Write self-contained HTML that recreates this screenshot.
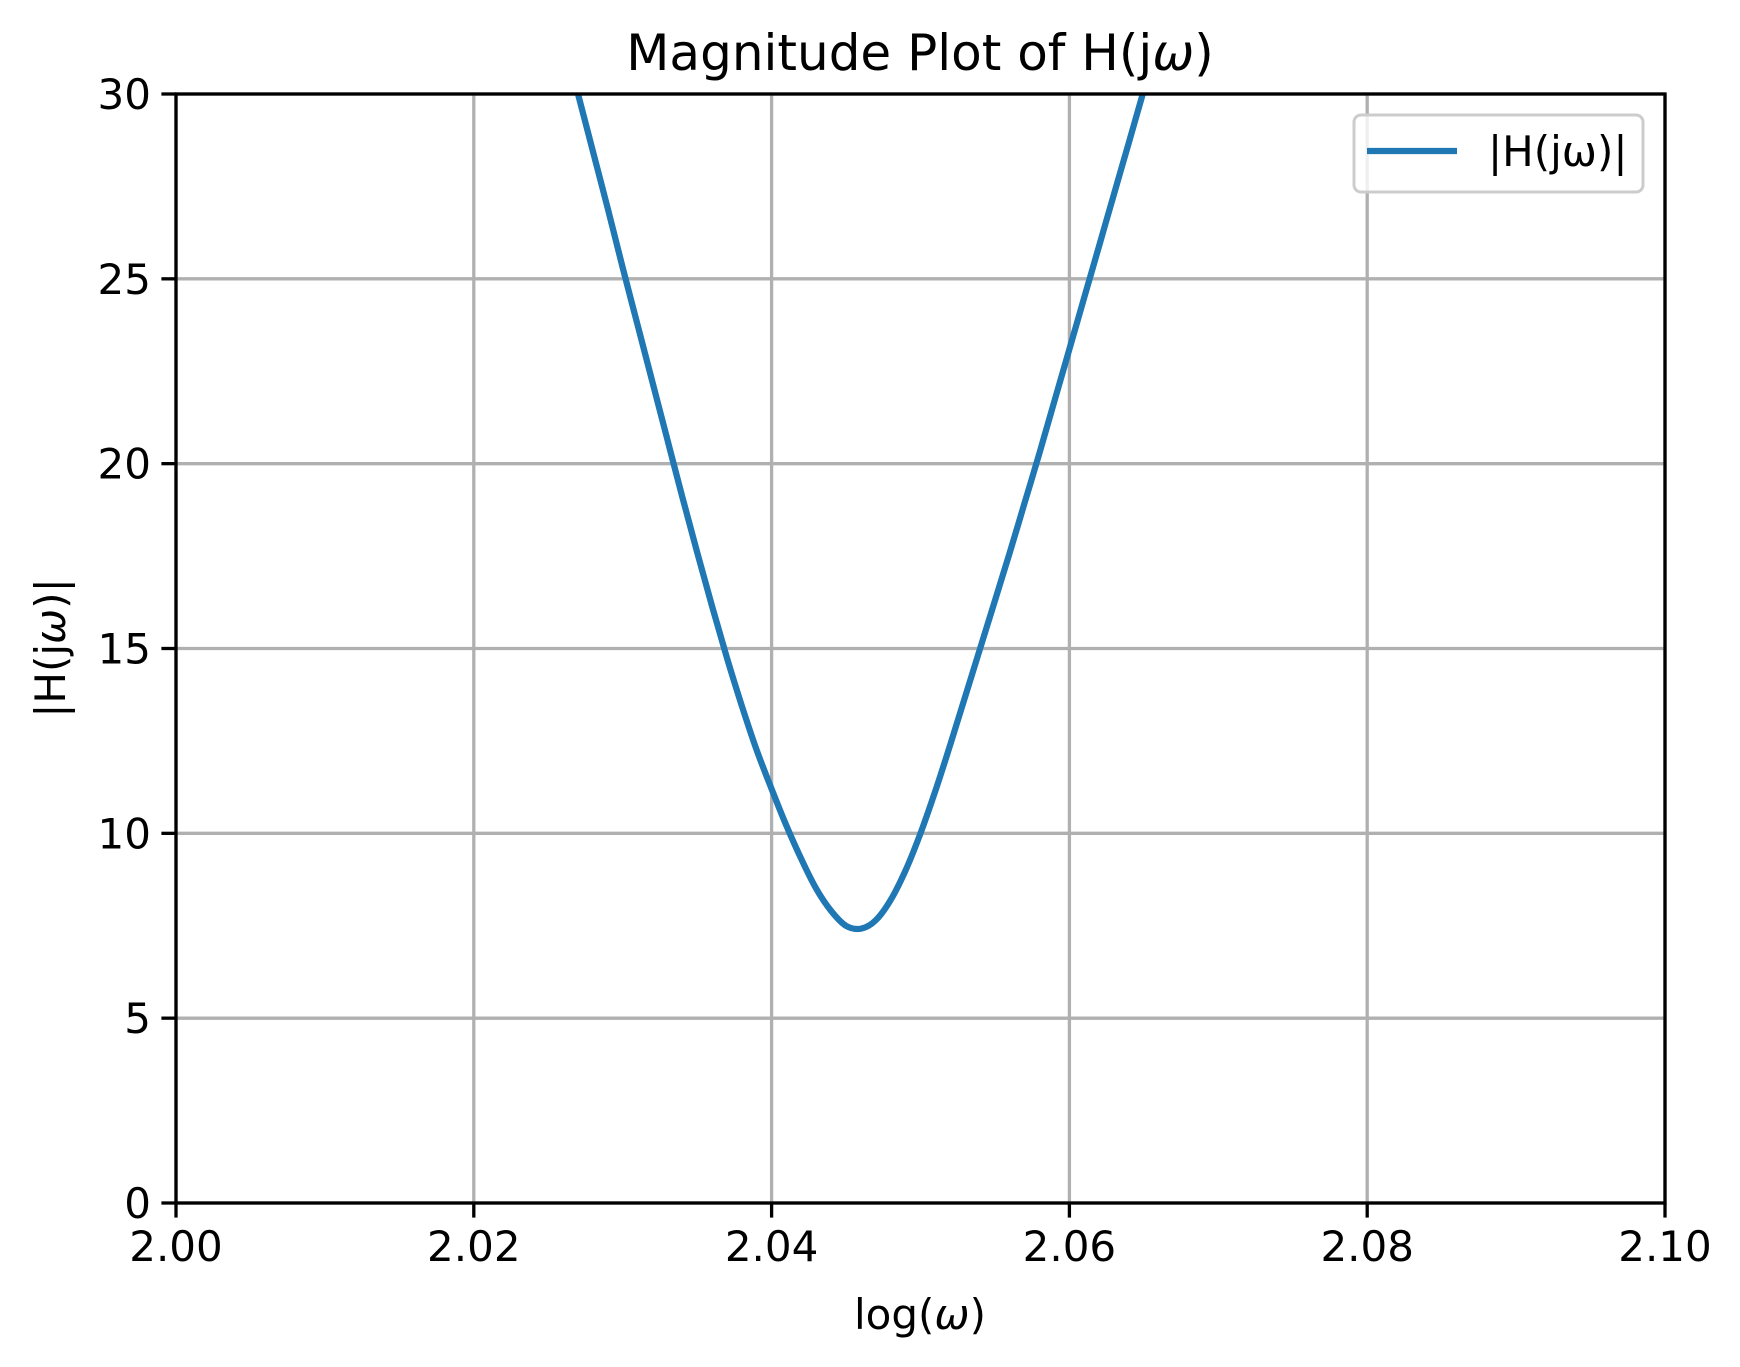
<!DOCTYPE html>
<html><head><meta charset="utf-8"><style>
html,body{margin:0;padding:0;background:#fff;}
svg{display:block;font-family:"DejaVu Sans","Liberation Sans",sans-serif;}
</style></head><body>
<svg id="chart" width="1740" height="1367" viewBox="0 0 1740 1367" xmlns="http://www.w3.org/2000/svg">
<defs><clipPath id="pc"><rect x="176" y="94" width="1489" height="1109"/></clipPath></defs>
<rect width="1740" height="1367" fill="#fff"/>
<g id="grid"></g>
<g id="curve"></g>
<g id="axes"></g>
<g id="ticks"></g>
<text x="920" y="70" font-size="50" text-anchor="middle">Magnitude Plot of H(j<tspan font-style="italic">ω</tspan>)</text>
<text x="920" y="1329" font-size="42" text-anchor="middle">log(<tspan font-style="italic">ω</tspan>)</text>
<text x="0" y="0" font-size="42" text-anchor="middle" transform="translate(65,648) rotate(-90)">|H(j<tspan font-style="italic">ω</tspan>)|</text>
<g>
<rect x="1354" y="115" width="289" height="77" rx="7" fill="#fff" fill-opacity="0.8" stroke="#cccccc" stroke-width="3"/>
<line x1="1367" y1="151" x2="1457" y2="151" stroke="#1f77b4" stroke-width="6.25"/>
<text x="1488" y="166" font-size="42">|H(jω)|</text>
</g>
</svg>
<script>
const xTicks = [2.00, 2.02, 2.04, 2.06, 2.08, 2.10];
const xTickLabels = ["2.00","2.02","2.04","2.06","2.08","2.10"];
const yTicks = [0, 5, 10, 15, 20, 25, 30];
const yTickLabels = ["0","5","10","15","20","25","30"];
const omegaLog = [2.026,2.027,2.028,2.029,2.030,2.031,2.032,2.033,2.034,2.035,2.036,2.037,2.038,2.039,2.040,2.041,2.042,2.043,2.044,2.045,2.046,2.047,2.048,2.049,2.050,2.051,2.052,2.053,2.054,2.055,2.056,2.057,2.058,2.059,2.060,2.061,2.062,2.063,2.064,2.065];
const magnitude = [31.6,30.0,28.45,26.9,25.3,23.75,22.2,20.65,19.1,17.6,16.15,14.75,13.45,12.25,11.2,10.2,9.3,8.5,7.9,7.5,7.42,7.65,8.2,9.0,10.0,11.15,12.4,13.7,15.0,16.3,17.6,18.95,20.3,21.7,23.1,24.5,25.9,27.3,28.7,30.1];

const L=176,R=1665,T=94,B=1203, xmin=2.0,xmax=2.1,ymin=0,ymax=30;
const sx=v=>L+(v-xmin)/(xmax-xmin)*(R-L);
const sy=v=>B-(v-ymin)/(ymax-ymin)*(B-T);
const NS="http://www.w3.org/2000/svg";
function mk(tag,attrs,parent){const e=document.createElementNS(NS,tag);for(const k in attrs)e.setAttribute(k,attrs[k]);document.getElementById(parent).appendChild(e);return e;}

xTicks.forEach((v,i)=>{
  const g=mk('line',{x1:sx(v),x2:sx(v),y1:T,y2:B,stroke:'#b0b0b0','stroke-width':3.3},'grid');
  
  
  const t=mk('line',{x1:sx(v),x2:sx(v),y1:B,y2:B+14.6,stroke:'#000','stroke-width':3.3},'ticks');
  
  
  const l=mk('text',{x:sx(v),y:B+58,'font-size':42,'text-anchor':'middle'},'ticks');
  l.textContent=xTickLabels[i];
  
  
});
yTicks.forEach((v,i)=>{
  const g=mk('line',{x1:L,x2:R,y1:sy(v),y2:sy(v),stroke:'#b0b0b0','stroke-width':3.3},'grid');
  
  
  const t=mk('line',{x1:L-14.6,x2:L,y1:sy(v),y2:sy(v),stroke:'#000','stroke-width':3.3},'ticks');
  
  
  const l=mk('text',{x:L-25,y:sy(v)+15,'font-size':42,'text-anchor':'end'},'ticks');
  l.textContent=yTickLabels[i];
  
  
});
const pts=omegaLog.map((x,i)=>[sx(x),sy(magnitude[i])]);
let d='M'+pts[0][0].toFixed(1)+' '+pts[0][1].toFixed(1);
for(let i=0;i<pts.length-1;i++){
  const p0=pts[Math.max(0,i-1)],p1=pts[i],p2=pts[i+1],p3=pts[Math.min(pts.length-1,i+2)];
  const c1=[p1[0]+(p2[0]-p0[0])/6,p1[1]+(p2[1]-p0[1])/6];
  const c2=[p2[0]-(p3[0]-p1[0])/6,p2[1]-(p3[1]-p1[1])/6];
  d+=' C'+c1[0].toFixed(1)+' '+c1[1].toFixed(1)+' '+c2[0].toFixed(1)+' '+c2[1].toFixed(1)+' '+p2[0].toFixed(1)+' '+p2[1].toFixed(1);
}
const p=mk('path',{d:d,fill:'none',stroke:'#1f77b4','stroke-width':6.25,'stroke-linejoin':'round','clip-path':'url(#pc)'},'curve');


const f=mk('rect',{x:L,y:T,width:R-L,height:B-T,fill:'none',stroke:'#000','stroke-width':3.3},'axes');


</script>
</body></html>
